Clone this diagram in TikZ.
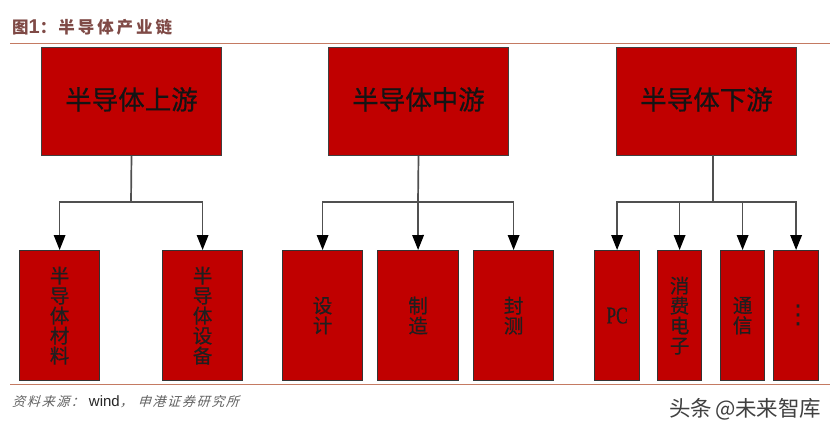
\documentclass[tikz,border=0pt]{standalone}
\usepackage{fontspec}
\usetikzlibrary{arrows.meta}
\setmainfont{Liberation Sans}
\newfontfamily\cjk{Noto Sans CJK SC}
\newfontfamily\cjkbold[FakeBold=0.6]{Noto Sans CJK SC}
\newfontfamily\cjkspaced[LetterSpace=18]{Noto Sans CJK SC}
\newfontfamily\cjkslant[FakeSlant=0.3,LetterSpace=13]{Noto Sans CJK SC}
\newfontfamily\lsans{Liberation Sans}
\newfontfamily\dejavu{DejaVu Sans}
\newfontfamily\lserif[FakeBold=0.3,FakeStretch=0.72]{Liberation Serif}
\definecolor{boxred}{HTML}{C00000}
\definecolor{rulec}{HTML}{C47A62}
\definecolor{titlec}{HTML}{7F4A46}
\definecolor{conn}{HTML}{505050}
\newcommand{\stackfont}{\cjkbold\fontsize{19.5}{20}\selectfont\setlength{\lineskiplimit}{-100pt}}
\newcommand{\toplabel}[1]{\raisebox{-8pt}[0pt][0pt]{#1}}
\tikzset{
  topbox/.style={draw=black!75,line width=1pt,fill=boxred,anchor=north west,inner sep=0pt,
    minimum height=108pt,font=\cjkbold\fontsize{26.5}{28}\selectfont,text=black!92},
  lowbox/.style={draw=black!80,line width=1.2pt,fill=boxred,anchor=north west,inner sep=0pt,
    minimum height=130pt,align=center,font=\stackfont,text=black!88},
  conn/.style={draw=conn,line width=1.7pt},
  arrowline/.style={conn,-{Triangle[length=15pt,width=11.5pt,fill=black,color=black]}},
  rulel/.style={draw=rulec,line width=1pt}
}
\begin{document}
\begin{tikzpicture}[x=1pt,y=-1pt]
\useasboundingbox[fill=white] (0,0) rectangle (834,432);
% title and rules
\node[anchor=west,inner sep=0pt,text=titlec,font=\cjkspaced\bfseries\fontsize{16.5}{18}\selectfont] (title) at (12,27) {图{\lsans\bfseries\fontsize{20}{20}\selectfont 1}：\hspace{2pt}半导体产业链};
\coordinate (r1a) at (10,43); \coordinate (r1b) at (830,43);
\draw[rulel] (r1a) -- (r1b);
\coordinate (r2a) at (10,384.5); \coordinate (r2b) at (830,384.5);
\draw[rulel] (r2a) -- (r2b);
% top boxes
\node[topbox,minimum width=180pt] (up) at (41,47) {\toplabel{半导体上游}};
\node[topbox,minimum width=180pt] (mid) at (328,47) {\toplabel{半导体中游}};
\node[topbox,minimum width=180pt] (down) at (616,47) {\toplabel{半导体下游}};
% lower boxes
\node[lowbox,minimum width=80pt] (a1) at (19,250) {半\\导\\体\\材\\料};
\node[lowbox,minimum width=80pt] (a2) at (162,250) {半\\导\\体\\设\\备};
\node[lowbox,minimum width=80pt] (b1) at (282,250) {设\\计};
\node[lowbox,minimum width=81pt] (b2) at (377,250) {制\\造};
\node[lowbox,minimum width=80pt] (b3) at (473,250) {封\\测};
\node[lowbox,minimum width=45pt] (c1) at (594,250) {\lserif\fontsize{24}{26}\selectfont PC};
\node[lowbox,minimum width=44pt] (c2) at (657,250) {消\\费\\电\\子};
\node[lowbox,minimum width=44pt] (c3) at (720,250) {通\\信};
\node[lowbox,minimum width=45pt,font=\dejavu\fontsize{26}{28}\selectfont] (c4) at (773,250) {\hspace{4pt}\raisebox{1pt}{⋮}};
% connectors
\coordinate (busa) at (131,202);
\coordinate (busb) at (418,202);
\coordinate (busc) at (713,202);
\coordinate (trunkc) at (713,155);
\draw[conn] (up.south) -- (busa);
\draw[conn] (mid.south) -- (busb);
\draw[conn] (trunkc) -- (busc);
\draw[arrowline] (busa) -| (a1.north);
\draw[arrowline] (busa) -| (a2.north);
\draw[arrowline] (busb) -| (b1.north);
\draw[arrowline] (busb) -- (b2.north);
\draw[arrowline] (busb) -| (b3.north);
\draw[arrowline] (busc) -| (c1.north);
\draw[arrowline] (busc) -| (c2.north);
\draw[arrowline] (busc) -| (c3.north);
\draw[arrowline] (busc) -| (c4.north);
% captions
\node[anchor=west,inner sep=0pt,text=black!62,font=\cjkslant\fontsize{13}{15}\selectfont] (src) at (12,402) {资料来源：\hspace{5pt}{\lsans\fontsize{15}{15}\selectfont\color{black!85}wind}，\hspace{5pt}申港证券研究所};
\node[anchor=west,inner sep=0pt,text=black!75,font=\cjk\fontsize{21.5}{23}\selectfont] (mark) at (669,409) {头条 \hspace{-2pt}@未来智库};
\end{tikzpicture}
\end{document}
